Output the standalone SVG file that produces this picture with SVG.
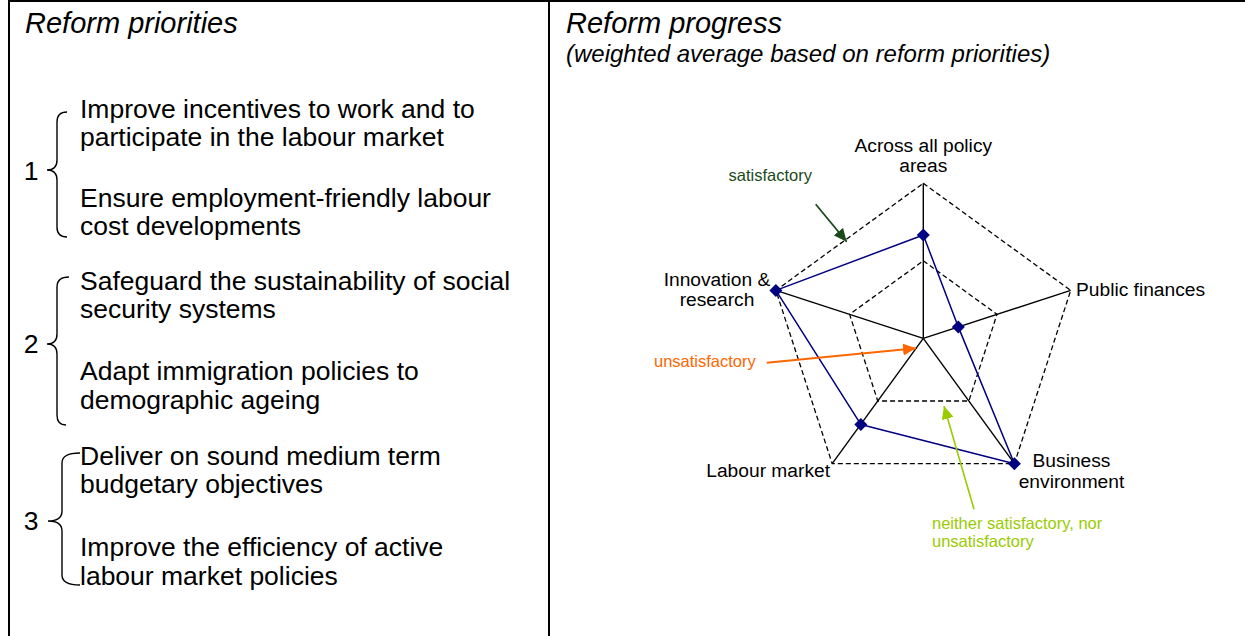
<svg xmlns="http://www.w3.org/2000/svg" width="1245" height="636" viewBox="0 0 1245 636">
<defs>
<style>
text { font-family: "Liberation Sans", Arial, sans-serif; fill: #000; }
.title { font-size: 29px; font-style: italic; }
.sub { font-size: 24px; font-style: italic; }
.body { font-size: 26.5px; }
.num { font-size: 26.5px; text-anchor: middle; }
.brace { fill: none; stroke: #000; stroke-width: 1.4; }
.frame { stroke: #000; stroke-width: 2; fill: none; }
.axis { stroke: #000; stroke-width: 1.4; fill: none; }
.grid { stroke: #000; stroke-width: 1.3; stroke-dasharray: 5 3; fill: none; }
.series { stroke: #000080; stroke-width: 1.5; fill: none; stroke-linejoin: round; }
.lbl { font-size: 19.2px; }
.mid { text-anchor: middle; }
.end { text-anchor: end; }
.ann { font-size: 16.5px; }
.sat { fill: #1a4a1a; }
.uns { fill: #ff6600; }
.nei { fill: #99cc00; }
</style>
<path id="dm" d="M0,-6.5 L6.5,0 L0,6.5 L-6.5,0 Z" fill="#000080"/>
<marker id="ah-sat" markerUnits="userSpaceOnUse" markerWidth="14" markerHeight="12" refX="13" refY="6" orient="auto"><path d="M0,0 L13,6 L0,12 Z" fill="#1a4a1a"/></marker>
<marker id="ah-uns" markerUnits="userSpaceOnUse" markerWidth="14" markerHeight="12" refX="13" refY="6" orient="auto"><path d="M0,0 L13,6 L0,12 Z" fill="#ff6600"/></marker>
<marker id="ah-nei" markerUnits="userSpaceOnUse" markerWidth="14" markerHeight="12" refX="13" refY="6" orient="auto"><path d="M0,0 L13,6 L0,12 Z" fill="#99cc00"/></marker>
</defs>
<rect x="0" y="0" width="1245" height="636" fill="#fff"/>

<g id="frame">
<line class="frame" x1="8" y1="1" x2="1245" y2="1"/>
<line class="frame" x1="9" y1="0" x2="9" y2="636"/>
<line class="frame" x1="549" y1="0" x2="549" y2="636"/>
</g>

<g id="left-title"><text class="title" x="25" y="33">Reform priorities</text></g>

<g id="priority-1">
<text class="num" x="31" y="180">1</text>
<path class="brace" d="M67,112 Q57,112 57,122 L57,160 Q57,170 47,170 Q57,170 57,180 L57,227 Q57,237 67,237"/>
<text class="body" x="80" y="118">Improve incentives to work and to</text>
<text class="body" x="80" y="146">participate in the labour market</text>
<text class="body" x="80" y="207">Ensure employment-friendly labour</text>
<text class="body" x="80" y="235">cost developments</text>
</g>

<g id="priority-2">
<text class="num" x="31" y="353">2</text>
<path class="brace" d="M69,277 Q57,277 57,287 L57,334 Q57,344 47,344 Q57,344 57,354 L57,415 Q57,425 66,425"/>
<text class="body" x="80" y="290">Safeguard the sustainability of social</text>
<text class="body" x="80" y="318">security systems</text>
<text class="body" x="80" y="380">Adapt immigration policies to</text>
<text class="body" x="80" y="409">demographic ageing</text>
</g>

<g id="priority-3">
<text class="num" x="31" y="530">3</text>
<path class="brace" d="M80,453 Q62,453 62,463 L62,511 Q62,521 48,521 Q62,521 62,531 L62,575 Q62,585 80,585"/>
<text class="body" x="80" y="465">Deliver on sound medium term</text>
<text class="body" x="80" y="493">budgetary objectives</text>
<text class="body" x="80" y="556">Improve the efficiency of active</text>
<text class="body" x="80" y="585">labour market policies</text>
</g>

<g id="right-title">
<text class="title" x="566" y="33">Reform progress</text>
<text class="sub" x="566" y="62">(weighted average based on reform priorities)</text>
</g>

<g id="radar-grid">
<polygon class="grid" points="923.3,183.3 1070.7,290.4 1014.4,463.7 832.2,463.7 775.9,290.4"/>
<polygon class="grid" points="923.3,260.8 997.0,314.35 968.85,401.0 877.75,401.0 849.6,314.35"/>
<line class="axis" x1="923.3" y1="338.3" x2="923.3" y2="183.3" stroke-width="2"/>
<line class="axis" x1="923.3" y1="338.3" x2="1070.7" y2="290.4"/>
<line class="axis" x1="923.3" y1="338.3" x2="1014.4" y2="463.7"/>
<line class="axis" x1="923.3" y1="338.3" x2="832.2" y2="463.7"/>
<line class="axis" x1="923.3" y1="338.3" x2="775.9" y2="290.4"/>
</g>

<g id="axis-labels">
<text class="lbl mid" x="923.3" y="152">Across all policy</text>
<text class="lbl mid" x="923.3" y="172">areas</text>
<text class="lbl" x="1076" y="296">Public finances</text>
<text class="lbl mid" x="1071.5" y="467">Business</text>
<text class="lbl mid" x="1071.5" y="488">environment</text>
<text class="lbl end" x="830" y="477">Labour market</text>
<text class="lbl mid" x="717" y="286">Innovation &amp;</text>
<text class="lbl mid" x="717" y="306">research</text>
</g>

<g id="series">
<polygon class="series" points="923.3,235.0 958.3,326.9 1014.4,463.7 860.8,424.4 775.9,290.4"/>
<use href="#dm" x="923.3" y="235.0"/>
<use href="#dm" x="958.3" y="326.9"/>
<use href="#dm" x="1014.4" y="463.7"/>
<use href="#dm" x="860.8" y="424.4"/>
<use href="#dm" x="775.9" y="290.4"/>
</g>

<g id="annotation-labels">
<text class="ann sat" x="728.5" y="181">satisfactory</text>
<text class="ann uns" x="654" y="367">unsatisfactory</text>
<text class="ann nei" x="932" y="529">neither satisfactory, nor</text>
<text class="ann nei" x="932" y="547">unsatisfactory</text>
</g>

<g id="connectors">
<line x1="815.7" y1="204.3" x2="846.7" y2="241.7" stroke="#1a4a1a" stroke-width="1.8" marker-end="url(#ah-sat)"/>
<line x1="766.7" y1="362.7" x2="916" y2="348.3" stroke="#ff6600" stroke-width="2" marker-end="url(#ah-uns)"/>
<line x1="974" y1="509.3" x2="944" y2="406" stroke="#99cc00" stroke-width="1.6" marker-end="url(#ah-nei)"/>
</g>
</svg>
